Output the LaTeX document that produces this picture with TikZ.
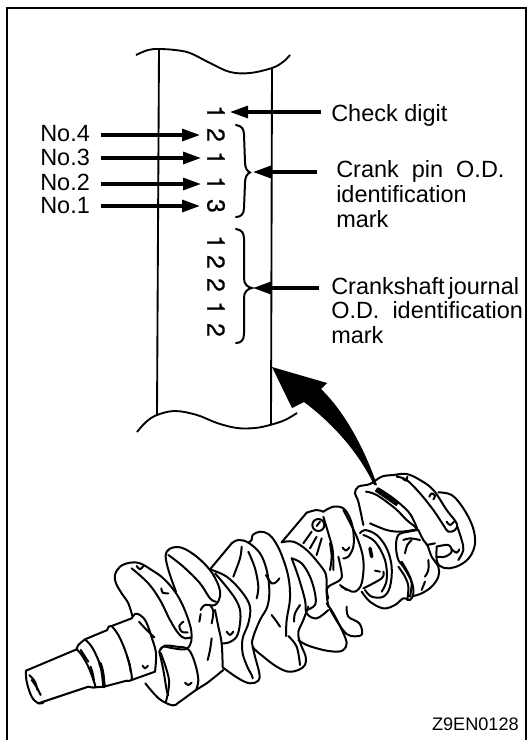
\documentclass[tikz,border=0pt]{standalone}
\usepackage{fontspec}
\setmainfont{Liberation Sans}
\newfontfamily\dgtfont[FakeBold=0.5]{TeX Gyre Heros}
\usetikzlibrary{arrows.meta}
\tikzset{
  lbl/.style={anchor=base west,inner sep=0pt,font=\fontsize{17.6}{21}\selectfont},
  dgt/.style={rotate=-90,inner sep=0pt,font=\dgtfont\fontsize{18.5}{21}\selectfont},
  ptr/.style={line width=2.4pt,-{Triangle[length=13.5pt,width=9pt]}},
  wall/.style={line width=1.4pt},
  brc/.style={line width=1.5pt,line cap=round},
  cl/.style={line width=1.5pt,line cap=round,line join=round},
  cw/.style={line width=2.6pt,line cap=round},
  zoomA/.style={shift={(20,550)},x=0.25pt,y=-0.25pt},
  zoomB/.style={shift={(160,510)},x=0.25pt,y=-0.25pt},
  zoomC/.style={shift={(320,460)},x=0.25pt,y=-0.25pt},
}
\newcommand\cv[2][cl]{\draw[#1] plot[smooth,tension=0.6] coordinates {#2};}
\begin{document}
\begin{tikzpicture}[x=0.75pt,y=-0.75pt]
\useasboundingbox (0,0) rectangle (528,740);
\draw[line width=1.5pt] (7,740) -- (7,8) -- (526,8) -- (526,740);

% band
\draw[wall] (159,49) -- (157,415);
\draw[wall] (272,68) -- (271,425);
\cv[wall]{(136,55) (148,50) (159,49) (175,50) (190,53) (210,63) (230,72) (250,73) (272,68) (283,62) (290,55)}
\cv[wall]{(137,432) (146,422) (157,415) (175,411) (197,415) (217,423) (237,428) (255,428) (270,425) (285,420) (297,413)}

% digits
\node[dgt] (c1) at (216,112) {1};
\node[dgt] (p4) at (216,135) {2};
\node[dgt] (p3) at (216,158) {1};
\node[dgt] (p2) at (216,183) {1};
\node[dgt] (p1) at (216,206) {3};
\node[dgt] (j5) at (216,242) {1};
\node[dgt] (j4) at (216,262) {2};
\node[dgt] (j3) at (216,285) {2};
\node[dgt] (j2) at (216,308) {1};
\node[dgt] (j1) at (216,330) {2};

% labels
\node[lbl] (no4) at (40,141) {No.4};
\node[lbl] (no3) at (40,165) {No.3};
\node[lbl] (no2) at (40,190) {No.2};
\node[lbl] (no1) at (40,213) {No.1};
\node[lbl] (chk) at (331,121) {Check digit};
\node[lbl] (pin) at (336,177) {Crank\ \ pin\ \ O.D.};
\node[lbl] (pin2) at (336,202) {identification};
\node[lbl] (pin3) at (336,227) {mark};
\node[lbl] (jnl) at (331,294) {Crankshaft\,journal};
\node[lbl] (jnl2) at (331,318) {O.D.\ \ identification};
\node[lbl] (jnl3) at (331,343) {mark};
\node[anchor=base east,inner sep=0pt,font=\fontsize{13.6}{16}\selectfont] (code) at (519,730) {Z9EN0128};

% arrow ends
\coordinate (a4) at (101,135); \coordinate (t4) at (200,135);
\coordinate (a3) at (101,158); \coordinate (t3) at (201,158);
\coordinate (a2) at (101,184); \coordinate (t2) at (201,184);
\coordinate (a1) at (101,206); \coordinate (t1) at (200,206);
\coordinate (ac) at (321,112); \coordinate (tc) at (230,112);
\coordinate (ap) at (317,172); \coordinate (tp) at (253,172);
\coordinate (aj) at (319,288); \coordinate (tj) at (253,288);
\draw[ptr] (a4) -- (t4);
\draw[ptr] (a3) -- (t3);
\draw[ptr] (a2) -- (t2);
\draw[ptr] (a1) -- (t1);
\draw[ptr] (ac) -- (tc);
\draw[ptr] (ap) -- (tp);
\draw[ptr] (aj) -- (tj);

% braces
\draw[brc] (236,125) .. controls (242,126) and (244,129) .. (244,135)
  -- (245,162) .. controls (245,168) and (247,171) .. (250,172.5)
  .. controls (247,174) and (245,177) .. (245,183)
  -- (244,208) .. controls (244,214) and (241,217) .. (236,217);
\draw[brc] (236,229) .. controls (242,230) and (244,233) .. (244,239)
  -- (244,278) .. controls (244,284) and (247,287) .. (252,288)
  .. controls (247,289) and (244,292) .. (244,298)
  -- (244,334) .. controls (244,340) and (241,343) .. (236,343);

% big arrow
\fill (272,367) -- (327,383) -- (321,389)
  .. controls (345,412) and (365,450) .. (377,485)
  -- (374,485) .. controls (360,455) and (335,425) .. (304,402)
  -- (292,408) -- cycle;

% crankshaft, left part
\begin{scope}[zoomA]
\cv{(70,458) (55,460) (35,440) (20,395) (18,362)}
\draw[cl] (18,362) -- (170,298);
\draw[cl] (55,460) -- (205,410);
\cv{(28,375) (45,395) (52,420)}
\cv{(35,390) (48,408) (62,435)}
\cv{(170,298) (175,285) (195,268)}
\cv{(170,298) (185,315) (205,350) (222,395) (225,412) (205,410)}
\cv{(182,300) (195,320) (205,335)}
\cv{(195,268) (215,290) (235,330) (250,375) (252,410)}
\cv[cw]{(240,340) (247,365) (252,410)}
\cv{(212,350) (218,370) (222,392)}
\draw[cl] (195,268) -- (262,240);
\draw[cl] (225,412) -- (252,410) -- (320,392);
\cv{(262,240) (266,230) (275,228)}
\draw[cl] (275,228) -- (335,205);
\cv{(335,205) (345,192) (360,195) (378,215) (395,262) (408,310) (405,365)}
\cv{(275,228) (295,255) (315,300) (330,350) (335,388) (320,392)}
\cv{(320,315) (328,340) (332,365)}
\draw[cl] (335,390) -- (405,365);
\cv{(357,215) (380,240) (403,262)}
\cv{(368,347) (375,355) (384,347)}
\cv{(337,198) (325,160) (305,130) (288,100) (285,75) (300,50) (330,38) (360,40) (395,60) (430,85) (465,125) (490,170) (510,225) (515,260) (510,285) (495,298) (460,295) (430,290) (418,305)}
\cv{(335,55) (385,100) (420,150) (450,210) (475,250) (495,265) (512,262)}
\cv{(350,48) (360,58) (370,48)}
\cv{(424,115) (428,128) (445,130)}
\cv{(490,215) (478,228) (485,245) (503,247)}
\cv{(418,305) (430,360) (440,420) (445,435)}
\end{scope}

% crankshaft, middle part
\begin{scope}[zoomB]
\cv{(0,420) (15,407) (50,410) (85,418) (105,460) (115,510) (108,540)}
\cv{(-44,520) (-3,566) (38,586) (58,576) (108,540) (140,520) (190,480)}
\cv{(2,429) (27,510) (17,578)}
\cv{(75,518) (85,525) (95,518)}
\cv{(48,245) (30,195) (18,150) (20,125) (40,112) (70,115) (110,140) (150,180) (175,225) (180,260) (165,285) (135,285) (122,300)}
\cv{(25,135) (70,170) (120,220) (150,265) (168,275)}
\cv{(122,312) (118,335)}
\cv{(150,285) (160,305) (155,340)}
\cv{(165,300) (175,350) (185,400) (188,470)}
\cv{(155,385) (150,420) (143,450)}
\draw[cl] (150,178) -- (215,100);
\cv{(215,100) (235,90) (265,98) (300,130) (320,180) (328,240) (322,290) (300,330) (280,380) (278,410) (310,440) (350,470) (385,485) (415,480) (435,465) (437,440) (425,410) (418,390) (415,365) (430,330) (445,290)}
\cv{(150,178) (200,200) (245,245) (270,290) (265,340) (248,385) (248,430) (262,470) (275,495) (278,505)}
\cv{(188,472) (235,505) (270,520) (295,512) (298,490) (285,440) (278,410)}
\cv{(265,98) (275,90) (278,75) (300,65) (325,72) (345,95) (365,135) (385,200) (390,265) (380,330) (378,378)}
\cv{(265,125) (285,175) (295,230) (290,265)}
\cv{(245,110) (240,145) (220,200)}
\cv{(185,400) (205,398) (230,380) (240,340) (240,300) (225,265) (195,225) (165,190)}
\cv{(200,365) (210,375) (220,365)}
\cv{(318,195) (335,220) (350,215) (358,205)}
\cv{(385,378) (410,410) (420,465)}
\cv{(335,315) (350,335) (360,350)}
\cv{(420,285) (405,310) (402,335)}
\cv{(395,145) (425,160) (450,200) (465,250) (465,285) (440,300)}
\cv{(365,97) (400,95) (440,120) (480,165) (498,195) (500,240) (505,265)}
\draw[cl] (365,97) -- (440,8);
\cv{(440,8) (470,0) (490,5)}
\draw[cl] (475,45) circle [radius=18];
\cv{(470,48) (480,35)}
\cv{(455,65) (430,100)}
\cv{(470,80) (450,115)}
\cv{(485,85) (470,135)}
\cv{(415,390) (440,405) (490,420) (530,425) (550,420) (560,400) (548,365) (520,310) (500,280)}
\cv{(395,145) (415,200) (435,270) (440,310) (470,325) (505,300)}
\cv{(510,100) (515,140) (510,180)}
\end{scope}

% crankshaft, right part
\begin{scope}[zoomC]
\cv{(10,155) (40,140) (70,145) (90,175) (100,215) (100,260) (85,290) (70,295)}
\cv{(10,170) (25,220) (38,270) (40,330)}
\cv{(68,263) (78,272) (88,262)}
\cv{(70,150) (110,230) (130,300) (125,370) (105,395) (85,390) (65,380)}
\cv{(55,290) (65,340) (60,360) (25,380) (20,400) (25,440)}
\cv{(60,375) (80,390)}
\cv{(80,440) (85,470) (118,490) (126,522) (105,529) (80,522) (55,490) (29,446)}
\cv{(120,220) (135,210) (170,225) (200,265) (215,320) (210,380) (190,410) (155,410) (135,390)}
\cv{(130,225) (165,245) (195,300) (200,360) (185,395)}
\cv[cw]{(150,265) (155,290)}
\cv{(165,332) (180,335)}
\cv{(130,385) (185,355) (190,335)}
\cv{(125,395) (150,425) (190,445) (225,435) (250,415) (270,420) (280,400) (275,365) (250,320) (235,300) (228,260) (235,225) (265,215) (295,210)}
\cv{(130,195) (115,125) (105,100) (115,80) (150,72) (185,50) (220,45) (260,42) (300,60) (340,90) (380,150) (410,190) (405,210) (385,215) (370,195) (340,150) (300,100) (260,60) (230,50)}
\cv{(138,95) (170,105) (225,145) (260,180) (290,205) (280,210) (240,215) (200,210) (150,190)}
\cv{(175,85) (220,115) (265,155) (285,190) (292,210)}
\draw[line width=3.4pt] (168,88) -- (233,133);
\cv{(248,55) (258,62) (262,50)}
\cv{(328,110) (335,100) (345,108) (340,118)}
\cv{(380,185) (390,195) (402,185)}
\cv{(355,97) (395,105) (430,145) (458,200) (465,250) (450,290) (420,315) (385,325) (360,318) (350,300) (350,260)}
\cv{(412,200) (425,240) (430,270) (415,300)}
\cv{(350,260) (385,255) (395,275) (375,290) (350,290)}
\cv{(395,268) (410,278) (418,268)}
\cv{(320,255) (345,250)}
\cv{(295,210) (310,240) (322,255) (335,290) (355,320) (355,350) (335,380) (305,400) (280,408)}
\cv{(325,300) (325,330) (315,350)}
\cv{(305,390) (315,365)}
\cv{(250,240) (270,235) (300,240)}
\cv{(255,280) (262,255) (275,240)}
\cv{(245,305) (265,340) (275,370) (270,410)}
\cv{(235,320) (255,350) (265,380) (262,420)}
\end{scope}
\end{tikzpicture}
\end{document}
